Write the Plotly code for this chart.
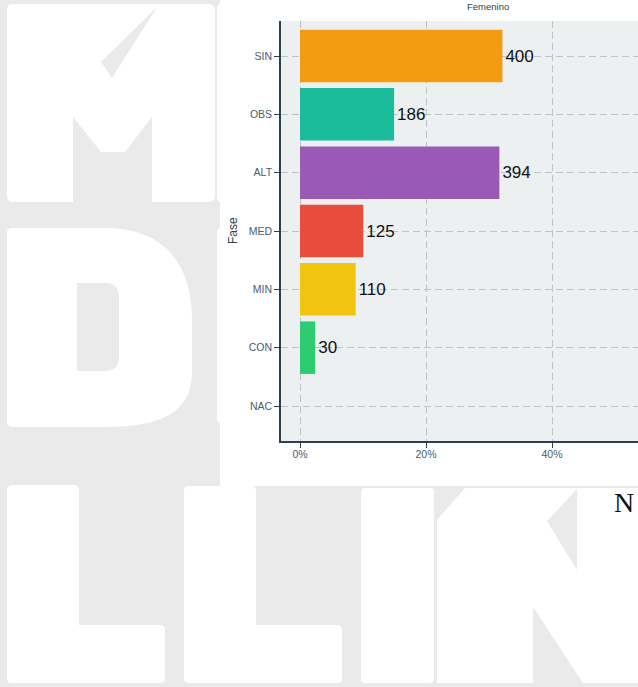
import plotly.graph_objects as go

# ---------------- data ----------------
categories = ["NAC", "CON", "MIN", "MED", "ALT", "OBS", "SIN"]   # bottom -> top
counts = [0, 30, 110, 125, 394, 186, 400]
bar_colors = ["#95A5A6", "#2ECC71", "#F1C40F", "#E74C3C", "#9B59B6", "#1ABC9C", "#F39C12"]
x_tickvals = [0.0, 0.2, 0.4]
x_ticktext = ["0%", "20%", "40%"]
facet_label = "Femenino"
y_title = "Fase"

total = sum(counts)
shares = [c / total for c in counts]
labels = [str(c) if c > 0 else "" for c in counts]

# ---------------- geometry helpers (pixel -> paper) ----------------
W_FIG, H_FIG = 638, 687
L, T, R, B = 281, 21, 638, 441
PW, PH = R - L, B - T


def px(x):
    return (x - L) / PW


def py(y):
    return (B - y) / PH


def path(*segs):
    out = []
    for s in segs:
        cmd, vals = s[0], s[1:]
        if cmd == "Z":
            out.append("Z")
            continue
        pts = []
        for i in range(0, len(vals), 2):
            pts.append(f"{px(vals[i]):.5f},{py(vals[i+1]):.5f}")
        out.append(cmd + " " + " ".join(pts))
    return " ".join(out)


def poly(pts):
    segs = [("M",) + pts[0]] + [("L",) + p for p in pts[1:]] + [("Z",)]
    return path(*segs)


def rrect(x0, y0, x1, y1, r):
    return path(("M", x0 + r, y0), ("L", x1 - r, y0), ("Q", x1, y0, x1, y0 + r),
                ("L", x1, y1 - r), ("Q", x1, y1, x1 - r, y1),
                ("L", x0 + r, y1), ("Q", x0, y1, x0, y1 - r),
                ("L", x0, y0 + r), ("Q", x0, y0, x0 + r, y0), ("Z",))


PAGE = "#e9eae9"
WHITE = "#ffffff"
PANEL = "#ECF0F1"

shapes = []


def add(p, color):
    shapes.append(dict(type="path", path=p, xref="paper", yref="paper",
                       fillcolor=color, line=dict(width=0), layer="below"))


# watermark letters (decorative background)
add(rrect(7, 4, 215, 202, 6), WHITE)                                   # M
add(poly([(73, 203), (73, 117), (101, 152), (125, 152), (152, 117), (152, 203)]), PAGE)
add(poly([(101, 62), (112, 78), (157, 7)]), PAGE)
add(rrect(217, 4, 240, 202, 4), WHITE)                                 # hidden letter
add(rrect(217, 228, 240, 423, 4), WHITE)
add(path(("M", 12, 228), ("L", 105, 228), ("C", 165, 228, 192, 265, 192, 320),     # D
         ("L", 192, 372), ("C", 192, 410, 165, 427, 105, 427),
         ("L", 12, 427), ("Q", 7, 427, 7, 422), ("L", 7, 233), ("Q", 7, 228, 12, 228), ("Z",)), WHITE)
add(path(("M", 77, 283), ("L", 105, 283), ("Q", 119, 283, 119, 297),
         ("L", 119, 357), ("Q", 119, 371, 105, 371), ("L", 77, 371), ("Z",)), PAGE)
add(rrect(7, 485, 79, 683, 5), WHITE)                                  # L
add(rrect(7, 625, 165, 683, 5), WHITE)
add(rrect(184, 486, 256, 683, 5), WHITE)                               # L
add(rrect(184, 625, 342, 683, 5), WHITE)
add(rrect(361, 488, 434, 683, 4), WHITE)                               # I
add(poly([(437, 520), (465, 488), (650, 488), (650, 683), (583, 683),  # N
          (533, 607), (533, 683), (437, 683)]), WHITE)
add(poly([(547, 521), (577, 489), (577, 570)]), PAGE)

# chart panel
add(poly([(220, -2), (650, -2), (650, 486), (220, 486)]), WHITE)
add(poly([(L, T), (R + 5, T), (R + 5, B), (L, B)]), PANEL)

# ---------------- figure ----------------
fig = go.Figure()
fig.add_trace(go.Bar(
    y=categories, x=shares, orientation="h",
    marker=dict(color=bar_colors, line=dict(width=0)),
    text=labels, textposition="outside", cliponaxis=False,
    constraintext="none",
    textfont=dict(family="Liberation Sans, Arial, sans-serif", size=17, color="#111111"),
    hoverinfo="skip", showlegend=False,
))

axis_font = dict(family="Liberation Sans, Arial, sans-serif", size=10.5, color="#4a5b6d")
grid = dict(showgrid=True, gridcolor="#BDC3C7", gridwidth=1.4, griddash="7px,4px",
            zeroline=False, showline=True, linecolor="#2C3E50", linewidth=1.6,
            ticks="outside", ticklen=5, tickcolor="#2C3E50", tickwidth=1,
            tickfont=axis_font)

fig.update_xaxes(range=[-0.03016, 0.5365], tickvals=x_tickvals, ticktext=x_ticktext,
                 fixedrange=True, ticklabelstandoff=-2, **grid)
fig.update_yaxes(type="category", categoryorder="array", categoryarray=categories,
                 range=[-0.6, 6.6], fixedrange=True, **grid)

fig.update_layout(
    width=W_FIG, height=H_FIG,
    margin=dict(l=L, r=W_FIG - R, t=T, b=H_FIG - B, pad=0),
    paper_bgcolor=PAGE, plot_bgcolor="rgba(0,0,0,0)",
    bargap=0.1,
    shapes=shapes,
    font=dict(family="Liberation Sans, Arial, sans-serif"),
    annotations=[
        dict(text=facet_label, x=px(488), y=py(7), xref="paper", yref="paper",
             showarrow=False, xanchor="center", yanchor="middle",
             font=dict(size=9.5, color="#2C3E50")),
        dict(text=y_title, x=px(233), y=py(231), xref="paper", yref="paper",
             showarrow=False, textangle=-90, xanchor="center", yanchor="middle",
             font=dict(size=12, color="#2C3E50")),
        dict(text="N", x=px(624), y=py(503), xref="paper", yref="paper",
             showarrow=False, xanchor="center", yanchor="middle",
             font=dict(family="Liberation Serif, Times New Roman, serif", size=28, color="#111111")),
    ],
)

fig.write_html("out.html", config={"displayModeBar": False},
               post_script="document.body.style.margin='0';document.body.style.overflow='hidden';")
